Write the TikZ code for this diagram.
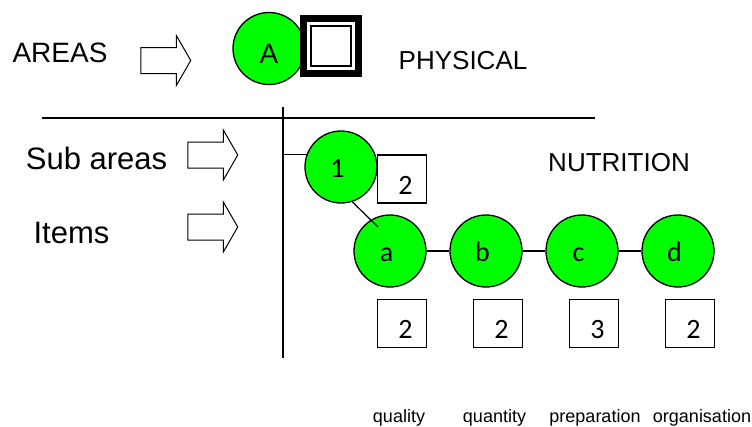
\documentclass[tikz,border=0pt]{standalone}
\usepackage{fontspec}
\setmainfont{Liberation Sans}
\newfontfamily\itemfont{Carlito}
\usepackage{tikz}
\usetikzlibrary{shapes.arrows}
\tikzstyle{area}=[circle, draw, line width=1.3pt, fill=green, minimum size=72pt, inner sep=0pt, font=\fontsize{28}{30}\selectfont, text height=29pt, text depth=0pt]
\tikzstyle{item}=[circle, draw, line width=1.3pt, fill=green, minimum size=72pt, inner sep=0pt, font=\itemfont\fontsize{28}{30}\selectfont, text height=20pt, text depth=0pt, execute at end node=\hspace*{7pt}]
\tikzstyle{score}=[draw, line width=1.2pt, fill=white, minimum width=49pt, minimum height=48pt, inner sep=0pt, font=\itemfont\fontsize{28}{30}\selectfont, text height=30pt, text depth=0pt, execute at begin node=\hspace*{7pt}]
\tikzstyle{block}=[single arrow, draw, line width=1pt, minimum height=50pt, minimum width=49pt, inner sep=0pt, inner ysep=12.5pt, single arrow head extend=12pt, single arrow tip angle=120, single arrow head indent=0pt]
\tikzstyle{bottom}=[font=\fontsize{18}{20}\selectfont, text height=13pt, text depth=4pt, inner sep=0pt]

\begin{document}
\begin{tikzpicture}[x=1pt, y=-1pt]
        \useasboundingbox (0,0) rectangle (752,426);
        % areas
        \node[font=\fontsize{28}{30}\selectfont] (areas) at (60,53) {AREAS};
        \node[block] (areasarrow) at (162,60.5) {};
        \node[area] (A) at (269,48.5) {A};
        \node[draw, line width=7pt, fill=white, minimum size=55pt, inner sep=0pt] (frame) at (331,46) {};
        \node[draw, line width=2pt, minimum size=40pt, inner sep=0pt] (framein) at (frame) {};
        \node[font=\fontsize{26}{28}\selectfont] (physical) at (463,61) {PHYSICAL};

        % divider lines
        \coordinate (hl) at (42,118);
        \coordinate (hr) at (595,118);
        \coordinate (vtop) at (283,107);
        \coordinate (vbot) at (283,358);
        \draw[line width=1.3pt] (hl) -- (hr);
        \draw[line width=1.3pt] (vtop) -- (vbot);

        % sub areas and items
        \node[font=\fontsize{31}{33}\selectfont] (subareas) at (96.5,158.5) {Sub areas};
        \node[font=\fontsize{31}{33}\selectfont] (items) at (71.5,233) {Items};
        \node[block] (subarrow) at (209,155) {};
        \node[block] (itemarrow) at (209,227) {};
        \node[font=\fontsize{26}{28}\selectfont] (nutrition) at (619,162.5) {NUTRITION};

        \node[item] (one) at (341,167) {1};
        \node[score] (s1) at (402,179) {2};
        \draw[line width=1.2pt] (one.160) -- (one.160 -| vtop);

        \node[item] (a) at (390,251) {a};
        \node[item] (b) at (486,251) {b};
        \node[item] (c) at (582,251) {c};
        \node[item] (d) at (678,251) {d};
        \draw[line width=1.2pt] (a) -- (b);
        \draw[line width=1.2pt] (b) -- (c);
        \draw[line width=1.2pt] (c) -- (d);
        \coordinate (ain) at (378,227);
        \draw[line width=1.2pt] (one.288) -- (ain);

        % scores
        \node[score] (sa) at (402,323.5) {2};
        \node[score] (sb) at (498,323.5) {2};
        \node[score] (sc) at (594,323.5) {3};
        \node[score] (sd) at (690,323.5) {2};

        \node[bottom] (quality) at (399,418) {quality};
        \node[bottom] (quantity) at (494.5,418) {quantity};
        \node[bottom] (preparation) at (595,418) {preparation};
        \node[bottom] (organisation) at (702,418) {organisation};
    \end{tikzpicture}
\end{document}
